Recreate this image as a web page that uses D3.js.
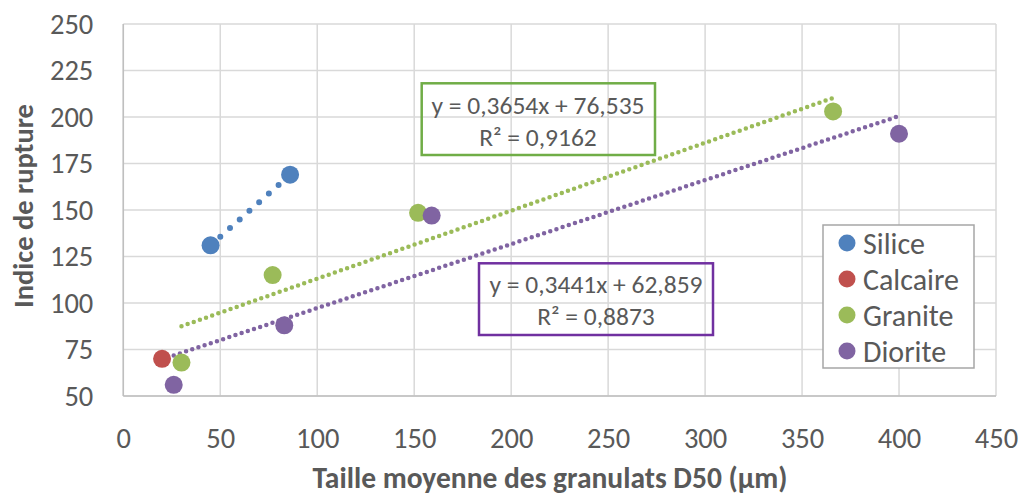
<!DOCTYPE html>
<html><head><meta charset="utf-8">
<script src="https://cdn.jsdelivr.net/npm/d3@7"></script>
<style>
body{margin:0;background:#fff;}
svg text{font-family:Carlito,Calibri,Lato,sans-serif;fill:#595959;}
</style></head>
<body><svg id="c" width="1022" height="497"></svg>
<script>
const seriesNames = ["Silice","Calcaire","Granite","Diorite"];
const seriesColors = ["#4F81BD","#C0504D","#9BBB59","#8064A2"];
const siliceX = [45, 86];
const siliceY = [131, 169];
const calcaireX = [20];
const calcaireY = [70];
const graniteX = [30, 77, 152, 366];
const graniteY = [68, 115, 148.5, 203];
const dioriteX = [26, 83, 159, 400];
const dioriteY = [56, 88, 147, 191];
const trendSlope = [0.3654, 0.3441];
const trendIntercept = [76.535, 62.859];
const trendR2 = ["0,9162","0,8873"];
const xTicks = [0,50,100,150,200,250,300,350,400,450];
const yTicks = [50,75,100,125,150,175,200,225,250];
const xTitle = "Taille moyenne des granulats D50 (µm)";
const yTitle = "Indice de rupture";

const svg = d3.select("#c");
const L=123.3, R=996, T=24, B=396;
const x = d3.scaleLinear().domain([0,450]).range([L,R]);
const y = d3.scaleLinear().domain([50,250]).range([B,T]);

// grid
svg.append("g").selectAll("line").data(xTicks).join("line")
  .attr("x1",d=>x(d)).attr("x2",d=>x(d)).attr("y1",T).attr("y2",B)
  .attr("stroke","#D9D9D9").attr("stroke-width",1.5);
svg.append("g").selectAll("line").data(yTicks).join("line")
  .attr("x1",L).attr("x2",R).attr("y1",d=>y(d)).attr("y2",d=>y(d))
  .attr("stroke","#D9D9D9").attr("stroke-width",1.5);
svg.append("line").attr("x1",L).attr("x2",L).attr("y1",T).attr("y2",B).attr("stroke","#BFBFBF").attr("stroke-width",1.5);
svg.append("line").attr("x1",L).attr("x2",R).attr("y1",B).attr("y2",B).attr("stroke","#BFBFBF").attr("stroke-width",1.5);

// axes labels
const xa = d3.axisBottom(x).tickValues(xTicks).tickSize(0).tickPadding(32).tickFormat(d=>d);
const gx = svg.append("g").attr("transform",`translate(0,${B})`).call(xa);
gx.select(".domain").remove();
gx.selectAll("text").style("font-size","28.5px").attr("fill","#595959").attr("font-family",null).attr("dy","0").attr("y",52);
const ya = d3.axisLeft(y).tickValues(yTicks).tickSize(0).tickPadding(30).tickFormat(d=>d);
const gy = svg.append("g").attr("transform",`translate(${L},0)`).call(ya);
gy.select(".domain").remove();
gy.selectAll("text").style("font-size","28.5px").attr("fill","#595959").attr("font-family",null);

svg.append("text").attr("x",550).attr("y",488).attr("text-anchor","middle")
  .style("font-size","29.5px").style("font-weight","bold").text(xTitle);
svg.append("text").attr("transform","translate(33,206) rotate(-90)").attr("text-anchor","middle")
  .style("font-size","28.5px").style("font-weight","bold").text(yTitle);

// trendlines
const line = d3.line().x(d=>x(d[0])).y(d=>y(d[1]));
svg.append("path").datum([[siliceX[0],siliceY[0]],[siliceX[1],siliceY[1]]]).attr("d",line)
  .attr("stroke",seriesColors[0]).attr("stroke-width",6).attr("stroke-linecap","round")
  .attr("stroke-dasharray","0 13").attr("fill","none");
[[graniteX,2,0],[dioriteX,3,1]].forEach(([xs,ci,ti])=>{
  const x0=d3.min(xs), x1=d3.max(xs);
  svg.append("path").datum([[x0,trendSlope[ti]*x0+trendIntercept[ti]],[x1,trendSlope[ti]*x1+trendIntercept[ti]]])
    .attr("d",line).attr("stroke",seriesColors[ci]).attr("stroke-width",4.5).attr("stroke-linecap","round")
    .attr("stroke-dasharray","0 6.5").attr("fill","none");
});

// points
const allSeries = [[siliceX,siliceY],[calcaireX,calcaireY],[graniteX,graniteY],[dioriteX,dioriteY]];
allSeries.forEach(([xs,ys],i)=>{
  svg.append("g").selectAll("circle").data(xs.map((v,j)=>[v,ys[j]])).join("circle")
    .attr("cx",d=>x(d[0])).attr("cy",d=>y(d[1])).attr("r",9).attr("fill",seriesColors[i]);
});

// equation boxes
const boxes = [
  {x:421.7,y:83.3,w:233.3,h:71.7,c:"#70AD47",ti:0,cx:538,l1:105,l2:137},
  {x:479,y:263.3,w:234,h:71.7,c:"#7030A0",ti:1,cx:596,l1:284,l2:316}
];
boxes.forEach(b=>{
  svg.append("rect").attr("x",b.x).attr("y",b.y).attr("width",b.w).attr("height",b.h)
    .attr("fill","none").attr("stroke",b.c).attr("stroke-width",2.5);
  const s = String(trendSlope[b.ti]).replace(".",","), it=String(trendIntercept[b.ti]).replace(".",",");
  svg.append("text").attr("x",b.cx).attr("y",b.l1).attr("dy","0.35em").attr("text-anchor","middle")
    .style("font-size","25.5px").text(`y = ${s}x + ${it}`);
  svg.append("text").attr("x",b.cx).attr("y",b.l2).attr("dy","0.35em").attr("text-anchor","middle")
    .style("font-size","25.5px").text(`R² = ${trendR2[b.ti]}`);
});

// legend
svg.append("rect").attr("x",823).attr("y",225).attr("width",151).attr("height",143)
  .attr("fill","#fff").attr("stroke","#A6A6A6").attr("stroke-width",1.5);
const lg = svg.append("g").selectAll("g").data(seriesNames).join("g")
  .attr("transform",(d,i)=>`translate(847,${243+i*36})`);
lg.append("circle").attr("r",8.5).attr("fill",(d,i)=>seriesColors[i]);
lg.append("text").attr("x",16).attr("dy","0.35em").style("font-size","30px").text(d=>d);
</script></body></html>
